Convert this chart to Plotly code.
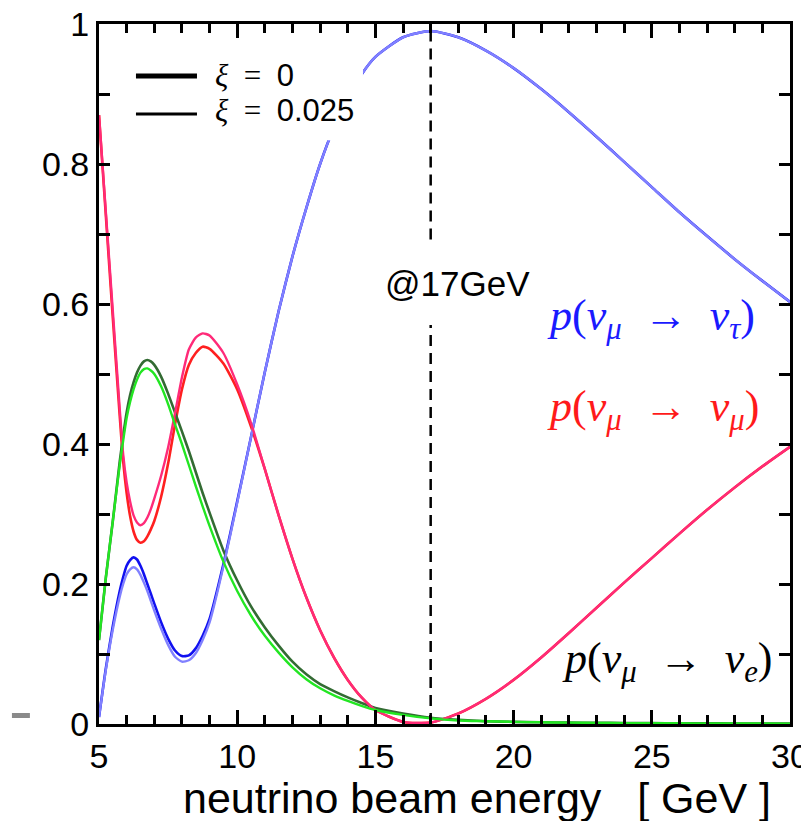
import plotly.graph_objects as go

# ---------------- data ----------------
energy = [5, 5.25, 5.5, 5.75, 5.875, 6, 6.125, 6.25, 6.375, 6.5, 6.625, 6.75, 6.875, 7,
          7.25, 7.5, 7.75, 8, 8.25, 8.5, 8.75, 9,
          9.5, 10, 10.5, 11, 11.5, 12, 12.5, 13, 13.5, 14, 14.5, 15,
          16, 17, 18, 19, 20, 21, 22, 23, 24, 25, 26, 27, 28, 29, 30]

p_tau_xi0 = [0.01, 0.08, 0.14, 0.19, 0.21, 0.226, 0.234, 0.238, 0.235, 0.226, 0.214, 0.2, 0.186, 0.172,
             0.145, 0.122, 0.105, 0.097, 0.098, 0.108, 0.126, 0.15,
             0.228, 0.318, 0.41, 0.503, 0.59, 0.668, 0.737, 0.80, 0.852, 0.894, 0.928, 0.953,
             0.981, 0.99, 0.981, 0.962, 0.937, 0.907, 0.874, 0.839, 0.803, 0.767, 0.731, 0.697, 0.664, 0.633, 0.603]
p_tau_xi1 = [0.01, 0.078, 0.135, 0.182, 0.2, 0.214, 0.221, 0.224, 0.221, 0.213, 0.202, 0.19, 0.176, 0.162,
             0.136, 0.113, 0.096, 0.089, 0.091, 0.101, 0.12, 0.145,
             0.225, 0.316, 0.41, 0.503, 0.59, 0.668, 0.737, 0.80, 0.852, 0.894, 0.928, 0.953,
             0.981, 0.99, 0.981, 0.962, 0.937, 0.907, 0.874, 0.839, 0.803, 0.767, 0.731, 0.697, 0.664, 0.633, 0.603]

p_mu_xi0 = [0.87, 0.725, 0.58, 0.44, 0.375, 0.33, 0.297, 0.275, 0.263, 0.259, 0.261, 0.268, 0.278, 0.29,
            0.325, 0.372, 0.428, 0.478, 0.513, 0.53, 0.539, 0.536,
            0.515, 0.478, 0.425, 0.364, 0.298, 0.236, 0.181, 0.134, 0.095, 0.063, 0.038, 0.02,
            0.003, 0.002, 0.015, 0.036, 0.063, 0.095, 0.13, 0.166, 0.202, 0.237, 0.272, 0.306, 0.338, 0.368, 0.396]
p_mu_xi1 = [0.87, 0.73, 0.59, 0.45, 0.385, 0.345, 0.318, 0.298, 0.288, 0.284, 0.287, 0.295, 0.307, 0.322,
            0.355, 0.395, 0.444, 0.495, 0.535, 0.552, 0.558, 0.555,
            0.53, 0.485, 0.43, 0.364, 0.298, 0.236, 0.181, 0.134, 0.095, 0.063, 0.038, 0.02,
            0.003, 0.002, 0.015, 0.036, 0.063, 0.095, 0.13, 0.166, 0.202, 0.237, 0.272, 0.306, 0.338, 0.368, 0.396]

p_e_xi0 = [0.12, 0.21, 0.29, 0.375, 0.412, 0.445, 0.47, 0.488, 0.502, 0.512, 0.518, 0.52, 0.518, 0.513,
           0.496, 0.472, 0.445, 0.418, 0.39, 0.36, 0.33, 0.302,
           0.248, 0.205, 0.168, 0.138, 0.112, 0.089, 0.071, 0.057, 0.047, 0.038, 0.03, 0.023,
           0.015, 0.009, 0.006, 0.004, 0.003, 0.0025, 0.002, 0.0017, 0.0014, 0.0012, 0.001, 0.0009, 0.0008, 0.0007, 0.0006]
p_e_xi1 = [0.12, 0.21, 0.29, 0.37, 0.405, 0.437, 0.46, 0.478, 0.492, 0.502, 0.507, 0.508, 0.505, 0.5,
           0.482, 0.457, 0.428, 0.4, 0.37, 0.34, 0.311, 0.283,
           0.232, 0.19, 0.155, 0.126, 0.102, 0.081, 0.064, 0.051, 0.041, 0.033, 0.026, 0.02,
           0.013, 0.008, 0.005, 0.004, 0.003, 0.0024, 0.002, 0.0016, 0.0013, 0.0011, 0.001, 0.0009, 0.0008, 0.0007, 0.0006]

x_ticks = [5, 10, 15, 20, 25, 30]
y_ticks = [0, 0.2, 0.4, 0.6, 0.8, 1]
marker_energy = 17

# ---------------- figure ----------------
SANS = "Liberation Sans, Arial, sans-serif"
SERIF = "Liberation Serif, Times New Roman, DejaVu Serif, serif"

series = [
    (p_tau_xi0, "#1010f0", 2.6),
    (p_mu_xi0, "#ff2020", 2.6),
    (p_e_xi0, "#336b33", 2.6),
    (p_tau_xi1, "#8080ff", 2.4),
    (p_mu_xi1, "#ff2a78", 2.4),
    (p_e_xi1, "#22e622", 2.4),
]

fig = go.Figure()
for ys, col, w in series:
    fig.add_trace(go.Scatter(x=energy, y=ys, mode="lines",
                             line=dict(color=col, width=w, shape="spline", smoothing=0.6),
                             showlegend=False, hoverinfo="skip"))

# the page body has an 8px margin, so the figure is sized to fit the window from (8, 8)
fig.update_layout(
    width=801, height=813,
    margin=dict(l=91, r=19, t=16, b=97, autoexpand=False),
    paper_bgcolor="white", plot_bgcolor="white",
    showlegend=False,
    font=dict(family=SANS, color="black"),
)

fig.update_xaxes(range=[5, 30], tickvals=x_ticks, ticks="inside", ticklen=14, tickwidth=2.5,
                 tickcolor="black", showline=True, linewidth=3, linecolor="black", mirror="ticks",
                 showgrid=False, zeroline=False, automargin=False, ticklabeloverflow="allow",
                 tickfont=dict(size=34, family=SANS),
                 minor=dict(dtick=1, ticks="inside", ticklen=9, tickwidth=2.5, tickcolor="black", showgrid=False))
fig.update_yaxes(range=[0, 1], tickvals=y_ticks, ticks="inside", ticklen=11, tickwidth=2.5,
                 tickcolor="black", showline=True, linewidth=3, linecolor="black", mirror="ticks",
                 showgrid=False, zeroline=False, automargin=False, ticklabeloverflow="allow",
                 tickfont=dict(size=34, family=SANS),
                 minor=dict(dtick=0.1, ticks="inside", ticklen=11, tickwidth=2.5, tickcolor="black", showgrid=False))

shapes = []
# white box behind the legend (covers the curve, as in the reference)
shapes.append(dict(type="rect", xref="paper", yref="paper", x0=0.03, x1=0.382, y0=0.834, y1=0.958,
                   fillcolor="white", line=dict(width=0), layer="above"))
# legend sample lines
shapes.append(dict(type="line", xref="paper", yref="paper", x0=0.0535, x1=0.1418, y0=0.9257, y1=0.9257,
                   line=dict(color="black", width=5), layer="above"))
shapes.append(dict(type="line", xref="paper", yref="paper", x0=0.0535, x1=0.1418, y0=0.8714, y1=0.8714,
                   line=dict(color="black", width=3), layer="above"))
# dashed marker line at 17 GeV (broken around its label)
shapes.append(dict(type="line", xref="x", yref="y", x0=marker_energy, x1=marker_energy, y0=0.692, y1=1,
                   line=dict(color="black", width=2.5, dash="11px,7px"), layer="above"))
shapes.append(dict(type="line", xref="x", yref="y", x0=marker_energy, x1=marker_energy, y0=0, y1=0.57,
                   line=dict(color="black", width=2.5, dash="11px,7px"), layer="above"))
# small grey mark left of the axis
shapes.append(dict(type="rect", xref="paper", yref="paper", x0=-0.126, x1=-0.1, y0=0.0086, y1=0.0157,
                   fillcolor="#8a8a8a", line=dict(width=0), layer="above"))
fig.update_layout(shapes=shapes)

ES = "\u2002"
ann = []
ann.append(dict(xref="paper", yref="paper", x=0.165, y=0.927, xanchor="left", yanchor="middle",
                text="<i>ξ</i>" + ES + "=" + ES + "<span style='font-family:Liberation Sans'>0</span>",
                showarrow=False, font=dict(size=31, family=SERIF, color="black")))
ann.append(dict(xref="paper", yref="paper", x=0.165, y=0.877, xanchor="left", yanchor="middle",
                text="<i>ξ</i>" + ES + "=" + ES + "<span style='font-family:Liberation Sans'>0.025</span>",
                showarrow=False, font=dict(size=31, family=SERIF, color="black")))
ann.append(dict(xref="x", yref="y", x=15.27, y=0.63, xanchor="left", yanchor="middle",
                text="@17GeV", showarrow=False, font=dict(size=35, family=SANS, color="black")))
ann.append(dict(xref="x", yref="y", x=21.14, y=0.58, xanchor="left", yanchor="middle",
                text="<i>p</i>(<i>ν</i><sub><i>μ</i></sub>" + ES + "→" + ES + "<i>ν</i><sub><i>τ</i></sub>)",
                showarrow=False, font=dict(size=44, family=SERIF, color="#1a1aff")))
ann.append(dict(xref="x", yref="y", x=21.14, y=0.449, xanchor="left", yanchor="middle",
                text="<i>p</i>(<i>ν</i><sub><i>μ</i></sub>" + ES + "→" + ES + "<i>ν</i><sub><i>μ</i></sub>)",
                showarrow=False, font=dict(size=44, family=SERIF, color="#ff1a1a")))
ann.append(dict(xref="x", yref="y", x=21.68, y=0.089, xanchor="left", yanchor="middle",
                text="<i>p</i>(<i>ν</i><sub><i>μ</i></sub>" + ES + "→" + ES + "<i>ν</i><sub><i>e</i></sub>)",
                showarrow=False, font=dict(size=44, family=SERIF, color="black")))
# x axis title
ann.append(dict(xref="paper", yref="paper", x=(477 - 99) / 691, y=(724 - 798) / 700,
                xanchor="center", yanchor="middle",
                text="neutrino beam energy\u00a0\u00a0\u00a0[ GeV ]", showarrow=False,
                font=dict(size=43, family=SANS, color="black")))
fig.update_layout(annotations=ann)

fig.write_html("out.html")
